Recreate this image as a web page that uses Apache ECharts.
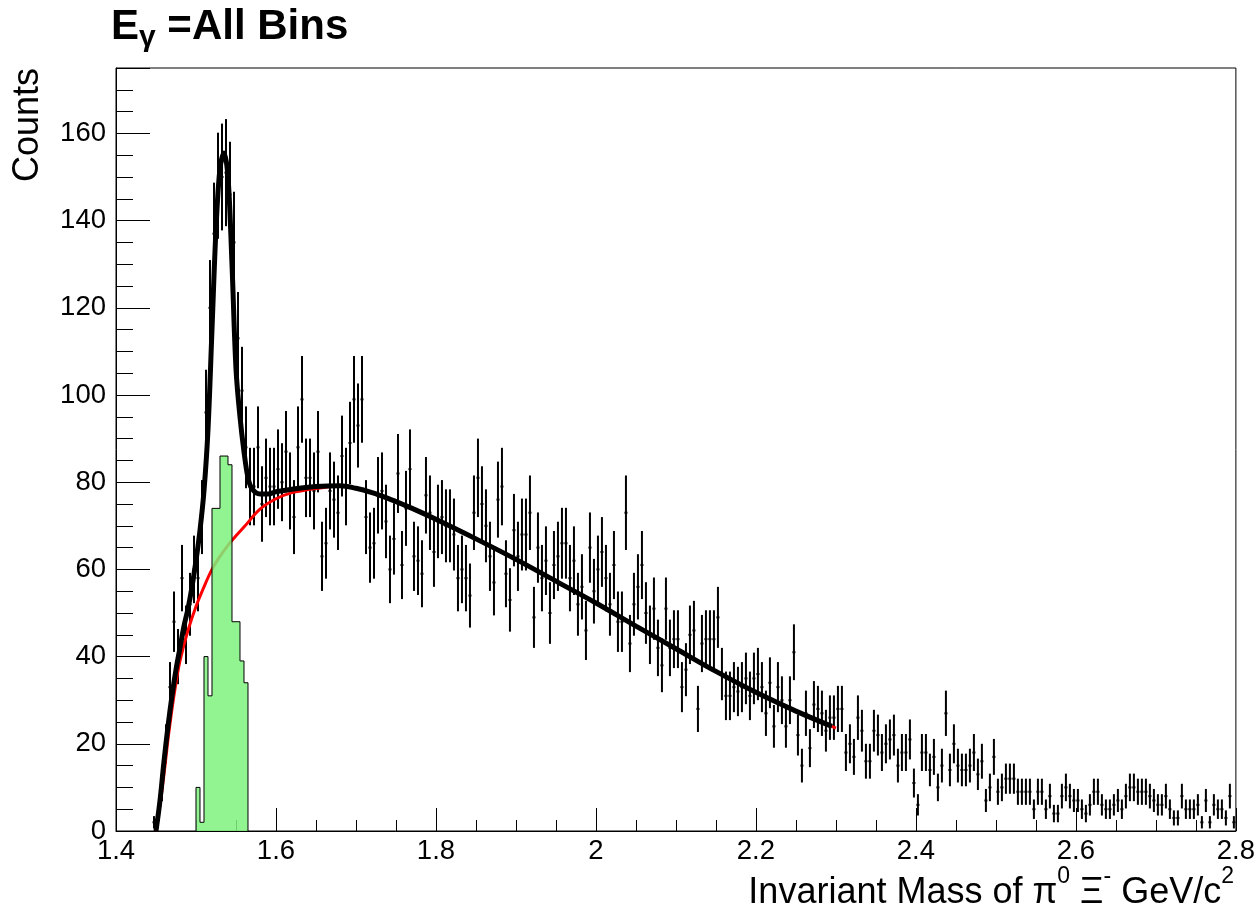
<!DOCTYPE html>
<html>
<head>
<meta charset="utf-8">
<script src="https://cdn.jsdelivr.net/npm/echarts@6/dist/echarts.min.js"></script>
<style>
  html, body { margin: 0; padding: 0; background: #ffffff; }
  #chart { width: 1258px; height: 916px; }
</style>
</head>
<body>
<div id="chart"></div>
<script>
// Histogram binning (GeV/c^2)
const BIN_WIDTH = 0.005;
const DATA_FIRST_CENTER = 1.4475;

// Counts per bin, pi0 Xi- invariant mass, all photon-energy bins
const dataCounts = [
  2, 3, 10, 20, 33, 48, 40, 58, 45, 52,
  60, 58, 72, 96, 120, 137, 148, 150, 151, 146,
  135, 113, 101, 88, 79, 79, 88, 75, 81, 79,
  79, 83, 80, 87, 78, 72, 88, 99, 81, 81,
  78, 87, 63, 66, 78, 76, 73, 86, 79, 89,
  99, 93, 99, 72, 65, 66, 77, 78, 71, 60,
  67, 82, 61, 74, 83, 63, 62, 59, 77, 73,
  64, 71, 72, 70, 70, 68, 58, 60, 58, 54,
  73, 81, 75, 70, 63, 57, 76, 79, 59, 53,
  69, 63, 68, 68, 73, 49, 65, 58, 62, 50,
  61, 63, 66, 66, 58, 62, 52, 56, 46, 65,
  55, 60, 64, 58, 52, 61, 48, 48, 73, 43,
  52, 56, 61, 50, 45, 51, 42, 38, 51, 42,
  44, 44, 33, 37, 45, 46, 28, 43, 44, 44,
  44, 49, 36, 31, 31, 33, 32, 33, 35, 31,
  35, 36, 33, 27, 34, 24, 33, 30, 24, 30,
  41, 22, 15, 27, 19, 29, 28, 27, 23, 26,
  26, 28, 28, 18, 20, 17, 26, 23, 16, 16,
  23, 22, 18, 20, 21, 22, 15, 18, 18, 21,
  11, 6, 18, 18, 14, 17, 10, 15, 27, 14,
  20, 15, 14, 14, 15, 18, 13, 16, 7, 10,
  17, 9, 10, 12, 12, 12, 9, 9, 9, 9,
  5, 9, 9, 5, 8, 4, 4, 8, 10, 8,
  7, 7, 5, 4, 6, 9, 9, 6, 5, 5,
  6, 7, 5, 8, 10, 10, 9, 9, 9, 8,
  7, 6, 6, 8, 5, 3, 3, 8, 5, 5,
  5, 6, 2, 7, 2, 6, 5, 5, 3, 8,
  2
];

// Signal component histogram (left edge of the first bin, then counts)
const SIGNAL_FIRST_EDGE = 1.500;
const signalCounts = [10, 2, 40, 31, 74, 74, 86, 86, 84, 48, 48, 39, 34];

// Total fit (signal + background)
const totalFitMass = [
  1.450, 1.455, 1.460, 1.465, 1.470, 1.475, 1.480, 1.485, 1.490, 1.495,
  1.500, 1.505, 1.510, 1.515, 1.520, 1.525, 1.530, 1.535, 1.540, 1.545,
  1.550, 1.555, 1.560, 1.565, 1.570, 1.580, 1.590, 1.600, 1.620, 1.650,
  1.680, 1.700, 1.720, 1.740, 1.760, 1.780, 1.800, 1.850, 1.900, 1.950,
  2.000, 2.050, 2.100, 2.150, 2.200, 2.250, 2.295
];
const totalFitValue = [
  0, 7, 16, 24, 31, 37, 42, 47, 51, 56,
  62, 69, 78, 92, 115, 138, 152, 155.5, 150, 130,
  106, 95, 87, 81, 78.5, 77.3, 77.3, 77.8, 78.4, 79,
  79.2, 78.6, 77.6, 76.3, 74.8, 73.2, 71.5, 67, 62.3, 57.3,
  52.3, 47, 41.8, 36.6, 31.8, 27.5, 24
];

// Background-only fit
const bkgFitMass = [
  1.450, 1.455, 1.460, 1.465, 1.470, 1.475, 1.480, 1.490, 1.500, 1.510,
  1.520, 1.530, 1.540, 1.550, 1.560, 1.580, 1.600, 1.620, 1.640, 1.660,
  1.680, 1.700, 1.720, 1.740, 1.760, 1.780, 1.800, 1.850, 1.900, 1.950,
  2.000, 2.050, 2.100, 2.150, 2.200, 2.250, 2.300
];
const bkgFitValue = [
  0, 6, 13, 21, 28, 34, 39, 46, 51.5, 56,
  60, 63, 65.5, 67.7, 69.7, 73.8, 76.2, 77.6, 78.3, 78.8,
  79.1, 78.6, 77.6, 76.3, 74.8, 73.2, 71.5, 67, 62.3, 57.3,
  52.3, 47, 41.8, 36.6, 31.8, 27.5, 23.6
];

// Axis setup
const X_MIN = 1.4, X_MAX = 2.8, X_STEP = 0.2;
const Y_MIN = 0, Y_MAX = 175, Y_STEP = 20;

const FONT = '"Liberation Sans", Arial, Helvetica, sans-serif';

const dataPoints = dataCounts.map((c, i) => [DATA_FIRST_CENTER + i * BIN_WIDTH, c, Math.sqrt(c)]);

// signal histogram outline: stepped line closed to the baseline
const signalLastEdge = SIGNAL_FIRST_EDGE + signalCounts.length * BIN_WIDTH;
const signalStep = [[SIGNAL_FIRST_EDGE, 0]]
  .concat(signalCounts.map((c, i) => [SIGNAL_FIRST_EDGE + i * BIN_WIDTH, c]))
  .concat([[signalLastEdge, signalCounts[signalCounts.length - 1]], [signalLastEdge, 0]]);

const totalFit = totalFitMass.map((m, i) => [m, totalFitValue[i]]);
const bkgFit = bkgFitMass.map((m, i) => [m, bkgFitValue[i]]);

// vertical sqrt(N) error bar plus a horizontal bar spanning the bin
function renderErrorBar(params, api) {
  const x = api.value(0), y = api.value(1), e = api.value(2);
  const top = api.coord([x, y + e]);
  const bot = api.coord([x, Math.max(Y_MIN, y - e)]);
  const l = api.coord([x - BIN_WIDTH / 2, y]);
  const r = api.coord([x + BIN_WIDTH / 2, y]);
  const style = { stroke: '#000000', lineWidth: 2 };
  return {
    type: 'group',
    children: [
      { type: 'line', shape: { x1: top[0], y1: top[1], x2: bot[0], y2: bot[1] }, style: style },
      { type: 'line', shape: { x1: l[0] + 0.5, y1: l[1], x2: r[0] - 0.5, y2: r[1] }, style: style }
    ]
  };
}

const chart = echarts.init(document.getElementById('chart'), null, { renderer: 'canvas' });

chart.setOption({
  backgroundColor: '#ffffff',
  animation: false,
  grid: {
    left: 116, right: 22, top: 68, bottom: 85,
    show: true, borderColor: '#000000', borderWidth: 1, backgroundColor: 'transparent'
  },
  xAxis: {
    type: 'value',
    min: X_MIN, max: X_MAX, interval: X_STEP,
    axisLine: { show: true, onZero: false, lineStyle: { color: '#000000', width: 1 } },
    axisTick: { show: true, inside: true, length: 23, lineStyle: { color: '#000000', width: 1 } },
    minorTick: { show: true, splitNumber: 4, length: 11, lineStyle: { color: '#000000', width: 1 } },
    axisLabel: { color: '#000000', fontFamily: FONT, fontSize: 27.5, margin: 6 },
    splitLine: { show: false }
  },
  yAxis: {
    type: 'value',
    min: Y_MIN, max: Y_MAX, interval: Y_STEP,
    axisLine: { show: true, lineStyle: { color: '#000000', width: 1 } },
    axisTick: { show: true, inside: true, length: 34, lineStyle: { color: '#000000', width: 1 } },
    minorTick: { show: true, splitNumber: 4, length: 17, lineStyle: { color: '#000000', width: 1 } },
    axisLabel: { color: '#000000', fontFamily: FONT, fontSize: 27.5, margin: 10, showMaxLabel: false },
    splitLine: { show: false }
  },
  series: [
    {
      name: 'data',
      type: 'custom',
      renderItem: renderErrorBar,
      data: dataPoints,
      encode: { x: 0, y: 1 },
      clip: true,
      z: 2
    },
    {
      name: 'background',
      type: 'line',
      data: bkgFit,
      showSymbol: false,
      smooth: 0.35,
      lineStyle: { color: '#ff0000', width: 3 },
      z: 3
    },
    {
      name: 'signal',
      type: 'line',
      data: signalStep,
      step: 'end',
      showSymbol: false,
      lineStyle: { color: '#000000', width: 1 },
      areaStyle: { color: '#7ef27e', opacity: 0.85, origin: 'start' },
      z: 4
    },
    {
      name: 'total',
      type: 'line',
      data: totalFit,
      showSymbol: false,
      smooth: 0.35,
      lineStyle: { color: '#000000', width: 5 },
      z: 5
    }
  ],
  graphic: [
    {
      type: 'text',
      left: 111, top: 6,
      style: {
        text: '{main|E}{sub|γ}{main| =All Bins}',
        fill: '#000000',
        rich: {
          main: { fontFamily: FONT, fontWeight: 'bold', fontSize: 42, lineHeight: 52, verticalAlign: 'middle' },
          sub: { fontFamily: FONT, fontWeight: 'bold', fontSize: 30, lineHeight: 52, verticalAlign: 'bottom' }
        }
      }
    },
    {
      type: 'text',
      x: 28, y: 68,
      rotation: Math.PI / 2,
      style: {
        text: 'Counts',
        fill: '#000000',
        fontFamily: FONT,
        fontSize: 36,
        align: 'right',
        verticalAlign: 'middle'
      }
    },
    {
      type: 'text',
      x: 1234, y: 888,
      style: {
        text: '{m|Invariant Mass of π}{s|0}{m| Ξ}{s|-}{m| GeV/c}{s|2}',
        fill: '#000000',
        align: 'right',
        verticalAlign: 'middle',
        rich: {
          m: { fontFamily: FONT, fontSize: 36, lineHeight: 46, verticalAlign: 'bottom' },
          s: { fontFamily: FONT, fontSize: 23, lineHeight: 46, verticalAlign: 'top' }
        }
      }
    }
  ]
});
</script>
</body>
</html>
